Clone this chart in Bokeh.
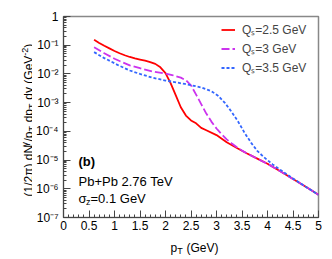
import numpy as np
from bokeh.plotting import figure
from bokeh.layouts import row, column
from bokeh.models import (Range1d, FixedTicker, CustomJSTickFormatter,
                          Legend, LegendItem, Label)
from bokeh.embed import file_html
from bokeh.resources import INLINE

FONT = "Liberation Sans"

# ---- data (pT in GeV, log10 of yield) ----
pt_red = [0.6, 0.7, 0.8, 0.9, 1.0, 1.1, 1.2, 1.3, 1.4, 1.5, 1.6, 1.7, 1.8, 1.9, 2.0, 2.1, 2.2,
          2.3, 2.4, 2.5, 2.6, 2.7, 2.8, 3.0, 3.2, 3.4, 3.6, 3.8, 4.0, 4.25, 4.5, 4.75, 5.0]
log_red = [-0.81, -0.92, -1.02, -1.11, -1.20, -1.28, -1.35, -1.41, -1.46, -1.50, -1.54, -1.59,
           -1.65, -1.77, -1.97, -2.32, -2.74, -3.16, -3.45, -3.62, -3.72, -3.88, -3.96, -4.13,
           -4.38, -4.58, -4.77, -4.95, -5.13, -5.39, -5.66, -5.93, -6.21]

pt_mag = [0.6, 0.8, 1.0, 1.1, 1.3, 1.5, 1.74, 2.0, 2.13, 2.3, 2.4, 2.5, 2.6, 2.7, 2.8, 2.9,
          3.0, 3.1, 3.2, 3.3, 3.4, 3.5, 3.6, 3.8, 4.0, 4.25, 4.5, 4.75, 5.0]
log_mag = [-1.07, -1.28, -1.47, -1.55, -1.70, -1.80, -1.91, -1.99, -2.04, -2.13, -2.22, -2.40,
           -2.72, -3.05, -3.38, -3.66, -3.90, -4.10, -4.28, -4.42, -4.55, -4.67, -4.77, -4.95,
           -5.13, -5.39, -5.66, -5.93, -6.21]

pt_blu = [0.6, 0.8, 1.0, 1.1, 1.3, 1.5, 1.74, 2.0, 2.13, 2.38, 2.5, 2.7, 2.9, 3.03, 3.16, 3.3,
          3.42, 3.55, 3.68, 3.8, 3.93, 4.1, 4.3, 4.5, 4.75, 5.0]
log_blu = [-1.24, -1.45, -1.63, -1.72, -1.88, -2.00, -2.13, -2.23, -2.27, -2.35, -2.39, -2.47,
           -2.60, -2.76, -3.00, -3.33, -3.65, -4.05, -4.40, -4.68, -4.90, -5.15, -5.40, -5.64,
           -5.93, -6.21]

series_labels = ["Q\u209b=2.5 GeV", "Q\u209b=3 GeV", "Q\u209b=3.5 GeV"]
x_ticks = [0, 0.5, 1, 1.5, 2, 2.5, 3, 3.5, 4, 4.5, 5]
y_exponents = [-7, -6, -5, -4, -3, -2, -1, 0]

y_red = (10.0 ** np.array(log_red)).tolist()
y_mag = (10.0 ** np.array(log_mag)).tolist()
y_blu = (10.0 ** np.array(log_blu)).tolist()

# ---------------- main plot ----------------
p = figure(width=300, height=238, output_backend="svg", toolbar_location=None,
           y_axis_type="log", x_range=Range1d(0, 5), y_range=Range1d(1e-7, 1),
           min_border_left=28, min_border_right=14, min_border_top=16, min_border_bottom=21)
p.grid.visible = False
p.background_fill_color = "white"
p.border_fill_color = "white"
p.outline_line_color = "#888888"
p.outline_line_width = 1.5

xa = p.xaxis[0]
xa.ticker = FixedTicker(ticks=x_ticks,
                        minor_ticks=[round(0.1 * i, 1) for i in range(0, 51)])
xa.formatter = CustomJSTickFormatter(code="return (Math.round(tick*10)/10).toString();")
ya = p.yaxis[0]
major = [10.0 ** e for e in y_exponents]
minor = [k * 10.0 ** e for e in y_exponents[:-1] for k in range(2, 10)]
ya.ticker = FixedTicker(ticks=major, minor_ticks=minor)
ya.formatter = CustomJSTickFormatter(code="""
const e = Math.round(Math.log10(tick));
if (e === 0) return "1";
const m = {"-":"\u207b","0":"\u2070","1":"\u00b9","2":"\u00b2","3":"\u00b3","4":"\u2074",
           "5":"\u2075","6":"\u2076","7":"\u2077","8":"\u2078","9":"\u2079"};
return "10" + String(e).split("").map(c => m[c]).join("");
""")
for ax in (xa, ya):
    ax.major_tick_in = 7
    ax.major_tick_out = 0
    ax.minor_tick_in = 3
    ax.minor_tick_out = 0
    ax.axis_line_color = "#444444"
    ax.major_tick_line_color = "#444444"
    ax.minor_tick_line_color = "#444444"
    ax.major_label_text_font = FONT
    ax.major_label_text_font_size = "12px"
    ax.major_label_text_color = "black"
xa.major_label_standoff = 3
ya.major_label_standoff = 5

r1 = p.line(pt_red, y_red, line_color="#ff0000", line_width=1.8)
r2 = p.line(pt_mag, y_mag, line_color="#cc33ee", line_width=1.8, line_dash="8 3")
r3 = p.line(pt_blu, y_blu, line_color="#3366ff", line_width=1.8, line_dash="3 2")

legend = Legend(items=[LegendItem(label=series_labels[0], renderers=[r1]),
                       LegendItem(label=series_labels[1], renderers=[r2]),
                       LegendItem(label=series_labels[2], renderers=[r3])],
                location=(158, 141))
legend.border_line_color = None
legend.background_fill_alpha = 0
legend.label_text_font = FONT
legend.label_text_font_size = "12px"
legend.glyph_width = 14
legend.glyph_height = 17
legend.label_height = 17
legend.spacing = 2
legend.padding = 0
legend.margin = 0
legend.label_standoff = 7
p.add_layout(legend)


def lab(fig, text, x, y, size, angle=0.0, bold=False):
    fig.add_layout(Label(x=x, y=y, x_units="screen", y_units="screen", text=text,
                         text_font=FONT, text_font_size=f"{size}px", angle=angle,
                         text_font_style="bold" if bold else "normal",
                         text_baseline="alphabetic", text_align="left", text_color="black"))


# in-plot annotations (frame-relative pixels)
lab(p, "(b)", 15, 56, 13, bold=True)
lab(p, "Pb+Pb 2.76 TeV", 15, 36, 13)
lab(p, "\u03c3", 15, 19, 13)
lab(p, "z", 22.5, 16, 9)
lab(p, "=0.1 GeV", 27, 19, 13)


def strip(w, h):
    f = figure(width=w, height=h, output_backend="svg", toolbar_location=None,
               x_axis_location=None, y_axis_location=None, min_border=0,
               x_range=Range1d(0, 1), y_range=Range1d(0, 1))
    f.grid.visible = False
    f.outline_line_color = None
    f.background_fill_color = "white"
    f.border_fill_color = "white"
    return f


# x-axis title strip (its frame is aligned with the main frame)
bottom = strip(300, 21)
lab(bottom, "p", 107, 12, 12)
lab(bottom, "T", 113.7, 9, 9)
lab(bottom, "(GeV)", 123, 12, 12)

# y-axis title strip (rotated text)
left = strip(32, 259)
A = np.pi / 2
bx = 28
y0 = 63
lab(left, "(1/2\u03c0) dN", bx, y0, 12, A)
lab(left, "\u03b3", bx - 4, y0 + 49.9, 9, A)
lab(left, "/p", bx, y0 + 54.9, 12, A)
lab(left, "T", bx + 3, y0 + 64.9, 9, A)
lab(left, "dp", bx, y0 + 74.2, 12, A)
lab(left, "T", bx + 3, y0 + 87.5, 9, A)
lab(left, "dy (GeV", bx, y0 + 96.8, 12, A)
lab(left, "-2", bx - 4, y0 + 140.8, 9, A)
lab(left, ")", bx, y0 + 148.8, 12, A)

layout = row(left, column(p, bottom))
open("out.html", "w", encoding="utf-8").write(file_html(layout, INLINE))
